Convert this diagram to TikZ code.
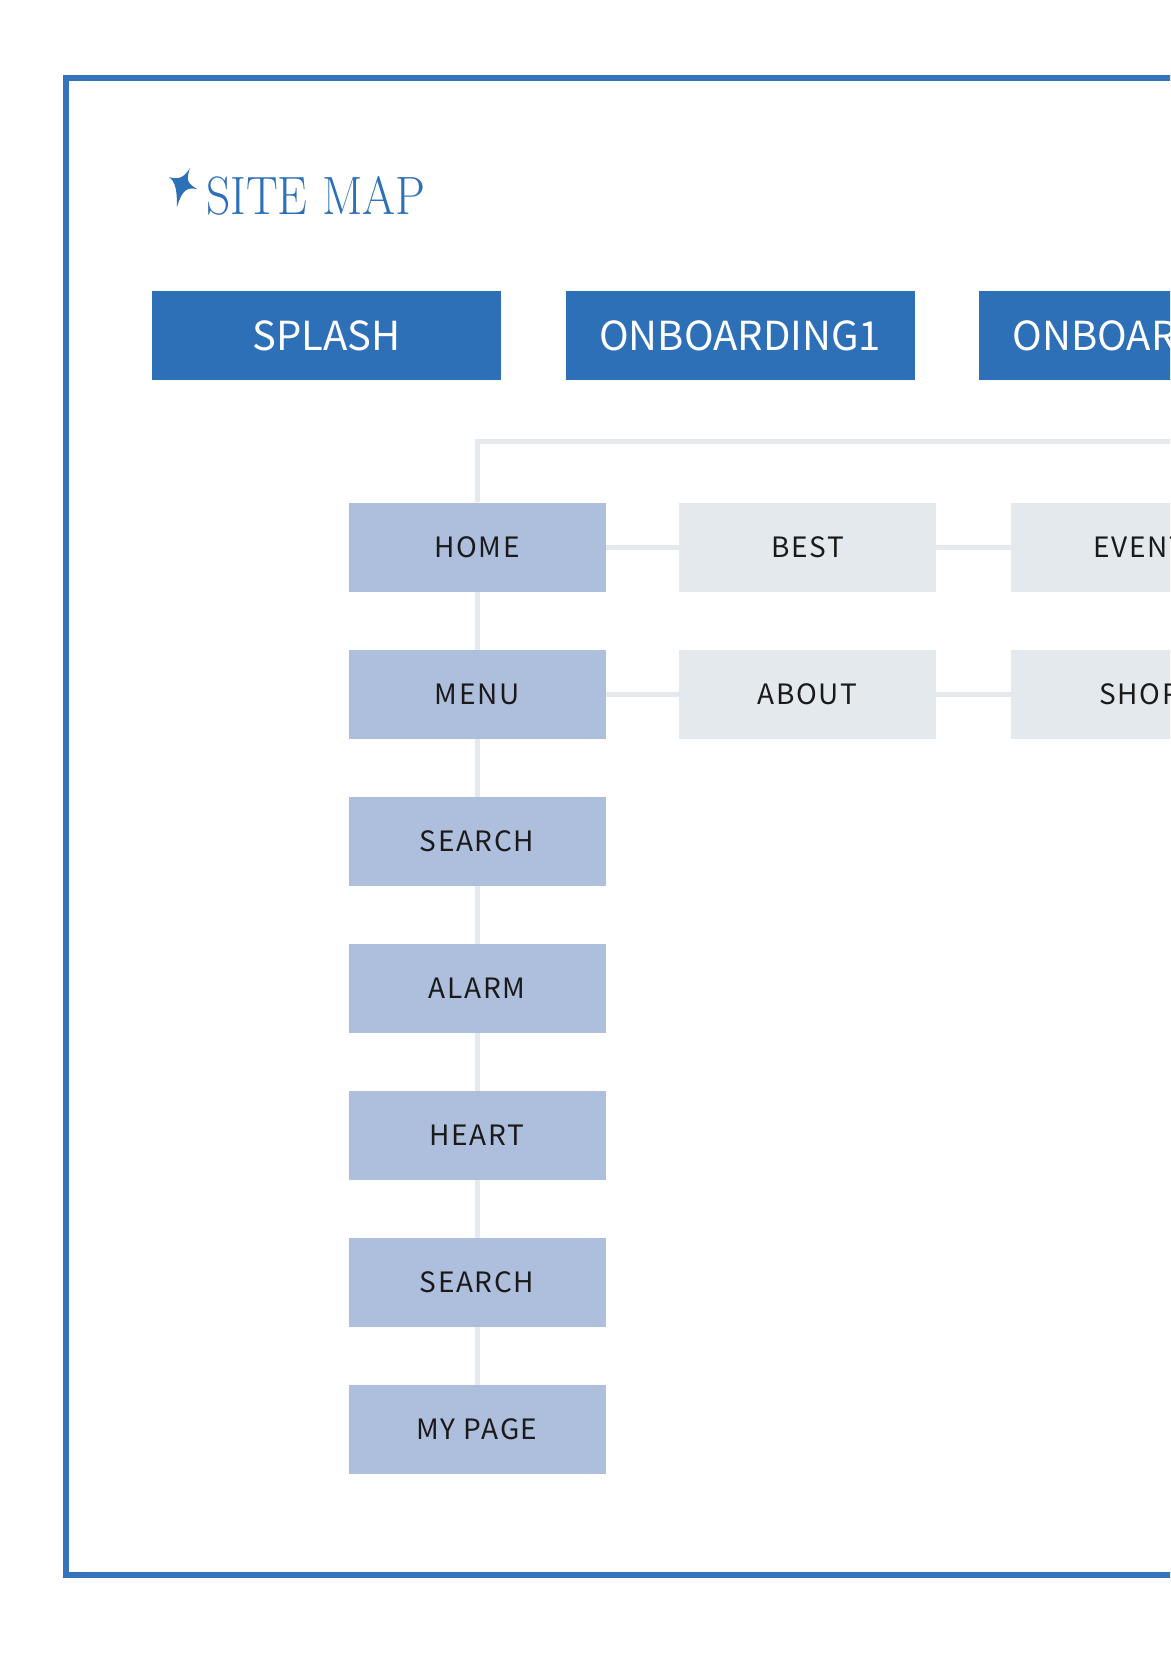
\documentclass[tikz,border=0pt]{standalone}
\usepackage{fontspec}
\usepackage{graphicx}
\newfontfamily\krfont{Noto Sans CJK KR}
\newfontfamily\krspaced[LetterSpace=6]{Noto Sans CJK KR}
\definecolor{frameblue}{HTML}{3573BD}
\definecolor{headblue}{HTML}{2D70B8}
\definecolor{leftbox}{HTML}{AEBEDD}
\definecolor{greybox}{HTML}{E4E9EE}
\definecolor{linegrey}{HTML}{E4E9EE}
\definecolor{txt}{HTML}{1A1A1A}
\tikzset{
  headbox/.style={fill=headblue, text=white, minimum width=349pt, minimum height=89pt, inner sep=0pt, font=\krfont\fontsize{40}{40}\selectfont},
  leftnode/.style={fill=leftbox, text=txt, minimum width=257pt, minimum height=89pt, inner sep=0pt, font=\krspaced\fontsize{28}{28}\selectfont},
  subnode/.style={fill=greybox, text=txt, minimum width=257pt, minimum height=89pt, inner sep=0pt, font=\krspaced\fontsize{28}{28}\selectfont},
  link/.style={draw=linegrey, line width=5pt},
}
\begin{document}
\begin{tikzpicture}[x=1pt,y=-1pt]
\useasboundingbox (0,0) rectangle (1170,1654);
\fill[white] (0,0) rectangle (1170,1654);
\clip (0,0) rectangle (1170,1654);
% frame
\draw[frameblue, line width=6pt] (66,78) rectangle (1260,1574.5);
% title
\fill[headblue] (190,168) .. controls (186,180) and (187,183) .. (197,189)
  .. controls (187,187) and (182,190) .. (177,207)
  .. controls (177,192) and (176,182) .. (169,177)
  .. controls (178,180) and (184,178) .. (190,168) -- cycle;
\node[anchor=base west, inner sep=0pt, text=headblue] (title) at (206,214)
  {\scalebox{0.88}[1]{\fontsize{54}{54}\selectfont SITE MAP}};
% header boxes
\node[headbox] (splash) at (326.5,335.5) {SPLASH};
\node[headbox] (onb1) at (740,335.5) {ONBOARDING1};
\node[headbox] (onb2) at (1153.5,335.5) {ONBOARDING2};
% left column
\node[leftnode] (home) at (477,547) {HOME};
\node[leftnode] (menu) at (477,694.5) {MENU};
\node[leftnode] (search) at (477,841.5) {SEARCH};
\node[leftnode] (alarm) at (477,988.5) {ALARM};
\node[leftnode] (heart) at (477,1135.5) {HEART};
\node[leftnode] (search2) at (477,1282.5) {SEARCH};
\node[leftnode] (mypage) at (477,1429.5) {MY PAGE};
% sub boxes
\node[subnode] (best) at (807.5,547) {BEST};
\node[subnode] (event) at (1139.5,547) {EVENT};
\node[subnode] (about) at (807.5,694.5) {ABOUT};
\node[subnode] (shop) at (1139.5,694.5) {SHOP};
% connectors
\coordinate (corner) at (477,441);
\coordinate (trunkend) at (1200,441);
\draw[link] (trunkend) -- (corner) -- (home.north);
\draw[link] (home.south) -- (menu.north);
\draw[link] (menu.south) -- (search.north);
\draw[link] (search.south) -- (alarm.north);
\draw[link] (alarm.south) -- (heart.north);
\draw[link] (heart.south) -- (search2.north);
\draw[link] (search2.south) -- (mypage.north);
\draw[link] (home.east) -- (best.west);
\draw[link] (best.east) -- (event.west);
\draw[link] (menu.east) -- (about.west);
\draw[link] (about.east) -- (shop.west);
\end{tikzpicture}
\end{document}
